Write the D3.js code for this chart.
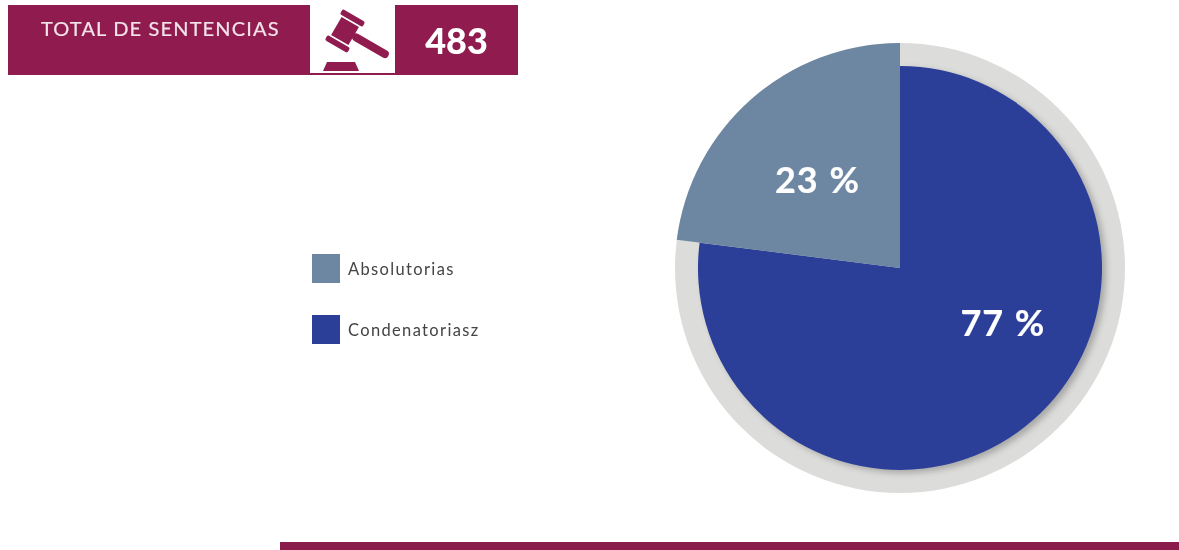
<!DOCTYPE html>
<html lang="es">
<head>
<meta charset="utf-8">
<script src="https://cdn.jsdelivr.net/npm/d3@7"></script>
<style>
html,body{margin:0;padding:0;background:#fff;overflow:hidden}
svg{display:block}
text{font-family:Lato,"Open Sans",sans-serif}
</style>
</head>
<body>
<svg id="c" width="1179" height="550"></svg>
<script>
const categories = ["Condenatoriasz", "Absolutorias"];
const values = [77, 23];
const legendOrder = ["Absolutorias", "Condenatoriasz"];
const valueLabels = ["77 %", "23 %"];
const headerTitle = "TOTAL DE SENTENCIAS";
const headerTotal = "483";

const svg = d3.select("#c");
const cx = 900, cy = 268;
const maroon = "#8f1b4f";
const color = d3.scaleOrdinal().domain(categories).range(["#2b3e98", "#6d86a2"]);
const outerR = d3.scaleOrdinal().domain(categories).range([202, 225]);

const defs = svg.append("defs");
const sh = defs.append("filter").attr("id","sh").attr("x","-20%").attr("y","-20%").attr("width","140%").attr("height","140%");
sh.append("feGaussianBlur").attr("stdDeviation",3);
const soft = defs.append("filter").attr("id","soft").attr("x","-5%").attr("y","-20%").attr("width","110%").attr("height","140%");
soft.append("feGaussianBlur").attr("stdDeviation",0.45);

/* header band */
const head = svg.append("g");
head.append("rect").attr("x",8).attr("y",5).attr("width",510).attr("height",70).attr("fill",maroon);
head.append("rect").attr("x",310).attr("y",5).attr("width",85).attr("height",68).attr("fill","#fff");
head.append("text").attr("x",41).attr("y",36).attr("font-size",20).attr("letter-spacing",1.15).attr("fill","#f4e4ea").attr("stroke","#f4e4ea").attr("stroke-width",.2).attr("filter","url(#soft)").text(headerTitle);
head.append("text").attr("x",456.5).attr("y",54).attr("text-anchor","middle").attr("font-size",36).attr("font-weight",900).attr("fill","#fff").attr("filter","url(#soft)").text(headerTotal);

/* gavel icon: local x runs along the handle, local y across the head */
const gavel = head.append("g").attr("fill",maroon).attr("transform","translate(345,31) rotate(30)");
gavel.append("rect").attr("x",-10).attr("y",-10.5).attr("width",20).attr("height",21);
gavel.append("rect").attr("x",-13).attr("y",-18).attr("width",26).attr("height",6).attr("rx",2);
gavel.append("rect").attr("x",-13).attr("y",12).attr("width",26).attr("height",6).attr("rx",2);
gavel.append("rect").attr("x",9).attr("y",-4).attr("width",41).attr("height",8).attr("rx",4);
head.append("path").attr("fill",maroon).attr("d",d3.line()([[323,71],[327,62],[355,62],[359,71]]));

/* ring */
svg.append("circle").attr("cx",cx).attr("cy",cy).attr("r",225).attr("fill","#dcdcdb");

/* pie */
const pie = d3.pie().sort(null).value((d,i)=>values[i]);
const arcs = pie(categories);
const arc = d3.arc().innerRadius(0).outerRadius(d=>outerR(d.data));
const g = svg.append("g").attr("transform",`translate(${cx},${cy})`);
/* shadow under the big slice */
g.append("path").datum(arcs[0]).attr("d",arc).attr("transform","translate(4,3)").attr("fill","#666").attr("opacity",.45).attr("filter","url(#sh)");
g.selectAll("path.s").data(arcs).join("path").attr("class","s").attr("d",arc).attr("fill",d=>color(d.data));

/* value labels, placed polar from the pie centre */
const labelPolar = d3.scaleOrdinal().domain(categories).range([[117,118.5],[120,-43.5]]);
g.selectAll("text.v").data(arcs).join("text").attr("class","v")
  .attr("text-anchor","middle")
  .attr("font-size",36).attr("font-weight",700).attr("letter-spacing",.8).attr("word-spacing",1.5).attr("fill","#fff").attr("stroke","#fff").attr("stroke-width",.2).attr("filter","url(#soft)")
  .attr("x",d=>{const [r,a]=labelPolar(d.data);return r*Math.sin(a*Math.PI/180);})
  .attr("y",d=>{const [r,a]=labelPolar(d.data);return -r*Math.cos(a*Math.PI/180)+12;})
  .text((d,i)=>valueLabels[i]);

/* legend */
const ly = d3.scalePoint().domain(legendOrder).range([269,330]);
const leg = svg.append("g").selectAll("g").data(legendOrder).join("g").attr("transform",d=>`translate(312,${ly(d)})`);
leg.append("rect").attr("x",0).attr("y",-15).attr("width",28).attr("height",29).attr("fill",d=>color(d));
leg.append("text").attr("x",36).attr("y",6).attr("font-size",16.5).attr("letter-spacing",1.35).attr("fill","#444").attr("filter","url(#soft)").text(d=>d);

/* bottom band */
svg.append("rect").attr("x",280).attr("y",542).attr("width",899).attr("height",8).attr("fill","#8a1c4c");
</script>
</body>
</html>
